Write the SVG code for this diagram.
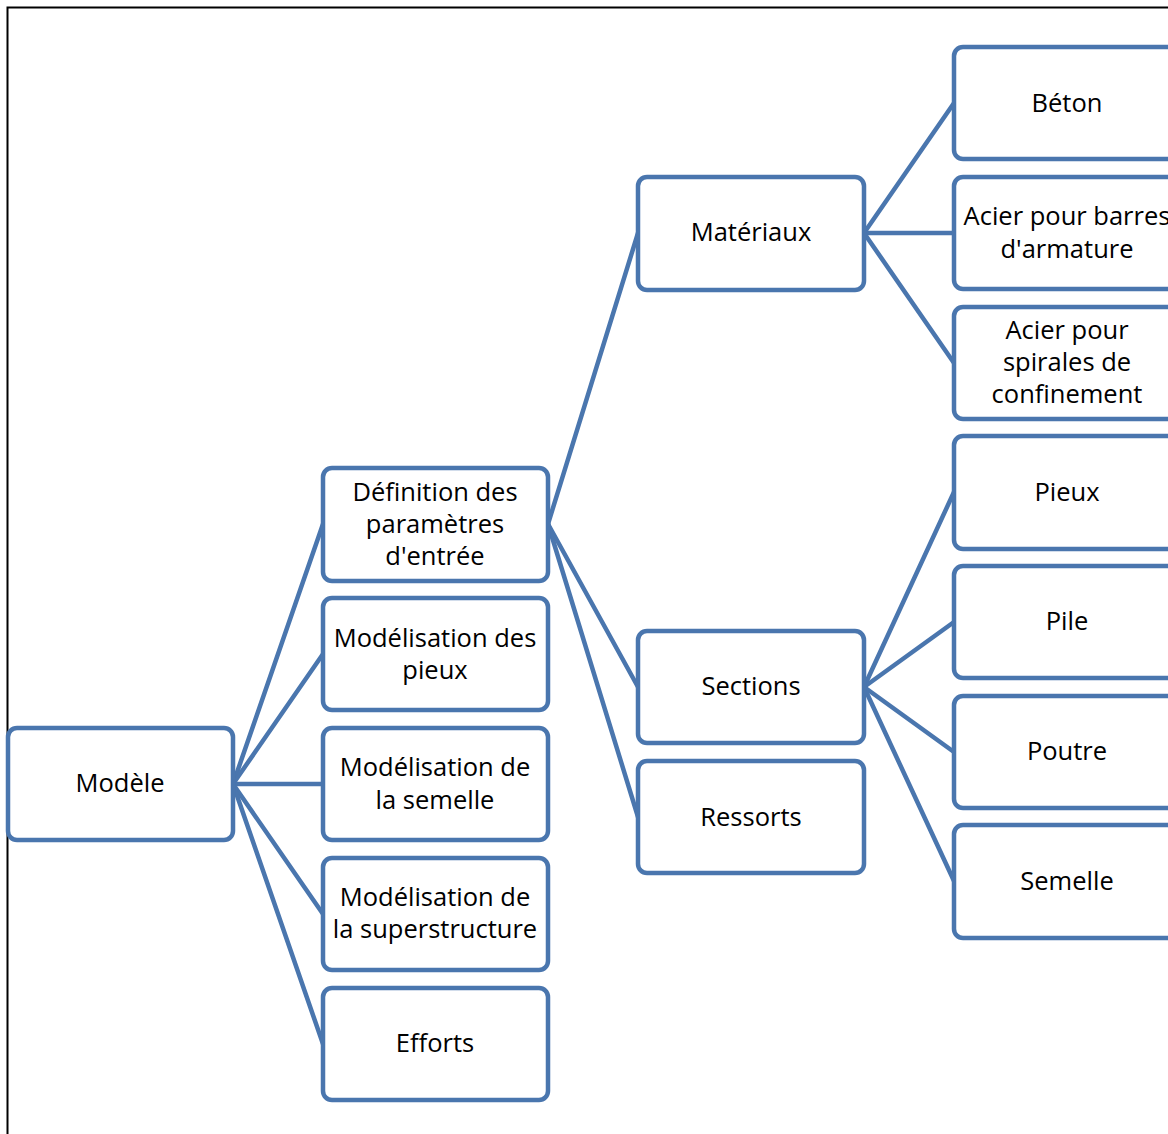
<svg xmlns="http://www.w3.org/2000/svg" width="1168" height="1134" viewBox="0 0 1168 1134">
<style>
.n rect{fill:#fff;stroke:#4a76ae;stroke-width:4.5}
.c line{stroke:#4a76ae;stroke-width:4.5;stroke-linecap:round}
text{font-family:"Open Sans","Liberation Sans",sans-serif;font-size:25.5px;fill:#000;text-anchor:middle}
</style>
<rect x="0" y="0" width="1168" height="1134" fill="#fff"/>
<path d="M7.5 1134 V7.5 H1168" fill="none" stroke="#000" stroke-width="2"/>
<g class="c">
<line x1="233" y1="784" x2="323" y2="524"/>
<line x1="233" y1="784" x2="323" y2="654"/>
<line x1="233" y1="784" x2="323" y2="784"/>
<line x1="233" y1="784" x2="323" y2="914"/>
<line x1="233" y1="784" x2="323" y2="1044"/>
<line x1="548" y1="524" x2="638" y2="233"/>
<line x1="548" y1="524" x2="638" y2="687"/>
<line x1="548" y1="524" x2="638" y2="817"/>
<line x1="864" y1="233" x2="954" y2="103"/>
<line x1="864" y1="233" x2="954" y2="233"/>
<line x1="864" y1="233" x2="954" y2="363"/>
<line x1="864" y1="687" x2="954" y2="492"/>
<line x1="864" y1="687" x2="954" y2="622"/>
<line x1="864" y1="687" x2="954" y2="752"/>
<line x1="864" y1="687" x2="954" y2="881"/>
</g>
<g id="modele" class="n"><rect x="8" y="728" width="225" height="112" rx="9"/><text x="120" y="792">Modèle</text></g>
<g id="definition" class="n"><rect x="323" y="468" width="225" height="113" rx="9"/><text x="435" y="501">Définition des</text><text x="435" y="533">paramètres</text><text x="435" y="565">d'entrée</text></g>
<g id="pieux-mod" class="n"><rect x="323" y="598" width="225" height="112" rx="9"/><text x="435" y="647">Modélisation des</text><text x="435" y="679">pieux</text></g>
<g id="semelle-mod" class="n"><rect x="323" y="728" width="225" height="112" rx="9"/><text x="435" y="776">Modélisation de</text><text x="435" y="809">la semelle</text></g>
<g id="superstructure" class="n"><rect x="323" y="858" width="225" height="112" rx="9"/><text x="435" y="906">Modélisation de</text><text x="435" y="938">la superstructure</text></g>
<g id="efforts" class="n"><rect x="323" y="988" width="225" height="112" rx="9"/><text x="435" y="1052">Efforts</text></g>
<g id="materiaux" class="n"><rect x="638" y="177" width="226" height="113" rx="9"/><text x="751" y="241">Matériaux</text></g>
<g id="sections" class="n"><rect x="638" y="631" width="226" height="112" rx="9"/><text x="751" y="695">Sections</text></g>
<g id="ressorts" class="n"><rect x="638" y="761" width="226" height="112" rx="9"/><text x="751" y="826">Ressorts</text></g>
<g id="beton" class="n"><rect x="954" y="47" width="226" height="112" rx="9"/><text x="1067" y="112">Béton</text></g>
<g id="acier-barres" class="n"><rect x="954" y="177" width="226" height="112" rx="9"/><text x="1067" y="225">Acier pour barres</text><text x="1067" y="258">d'armature</text></g>
<g id="acier-spirales" class="n"><rect x="954" y="307" width="226" height="112" rx="9"/><text x="1067" y="339">Acier pour</text><text x="1067" y="371">spirales de</text><text x="1067" y="403">confinement</text></g>
<g id="pieux" class="n"><rect x="954" y="436" width="226" height="113" rx="9"/><text x="1067" y="501">Pieux</text></g>
<g id="pile" class="n"><rect x="954" y="566" width="226" height="112" rx="9"/><text x="1067" y="630">Pile</text></g>
<g id="poutre" class="n"><rect x="954" y="696" width="226" height="112" rx="9"/><text x="1067" y="760">Poutre</text></g>
<g id="semelle" class="n"><rect x="954" y="825" width="226" height="113" rx="9"/><text x="1067" y="890">Semelle</text></g>
</svg>
